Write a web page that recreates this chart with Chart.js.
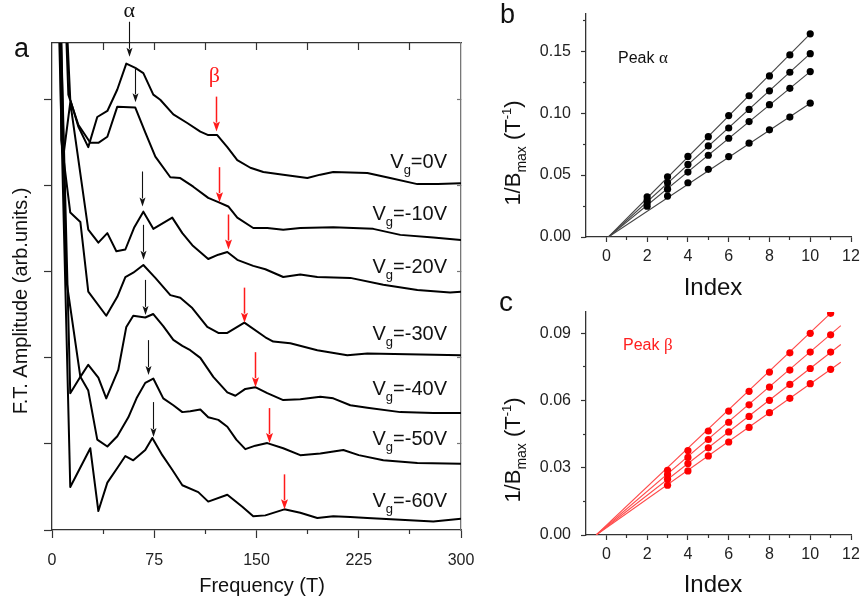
<!DOCTYPE html>
<html>
<head>
<meta charset="utf-8">
<title>FFT spectra and Landau level index plots</title>
<script src="https://cdn.jsdelivr.net/npm/chart.js@4.4.1/dist/chart.umd.min.js"></script>
<style>
  html, body { margin: 0; padding: 0; background: #fff; }
  #fig { position: relative; width: 861px; height: 604px; overflow: hidden; background: #fff; }
  #fig canvas { position: absolute; }
</style>
</head>
<body>
<div id="fig">
  <canvas id="panelA" width="485" height="604" style="left:0;top:0"></canvas>
  <canvas id="panelB" width="391" height="300" style="left:470px;top:0"></canvas>
  <canvas id="panelC" width="391" height="314" style="left:470px;top:290px"></canvas>
</div>
<script>
// ---- panel a: FT amplitude vs frequency, one offset trace per gate voltage ----
const gateLabels = ['=0V', '=-10V', '=-20V', '=-30V', '=-40V', '=-50V', '=-60V'];
const gateLabelAmp = [4.21, 3.60, 2.99, 2.21, 1.57, 0.99, 0.27];

const freq0V = [9, 13.4, 19.3, 26.6, 33.2, 40.6, 47.9, 54.5, 61.1, 67.0, 74.3, 79.4, 89.0, 99.2, 108.8, 114.6, 121.2, 128.6, 135.9, 145.5, 155.0, 169.6, 187.3, 196.8, 206.3, 231.3, 248, 268, 283, 300];
const amp0V = [6.5, 5.0, 4.69, 4.45, 4.80, 4.87, 5.12, 5.42, 5.37, 5.31, 5.06, 5.00, 4.83, 4.73, 4.63, 4.59, 4.59, 4.45, 4.30, 4.21, 4.16, 4.13, 4.09, 4.13, 4.16, 4.15, 4.09, 4.02, 4.02, 4.03];

const freqM10V = [8.5, 12.0, 19.3, 28.1, 34.0, 40.6, 47.9, 61.1, 68.4, 75.8, 86.8, 94.1, 103.6, 114.6, 122.0, 129.3, 135.9, 147.6, 157.9, 169.6, 182.1, 206.3, 235.6, 255.5, 279.7, 300];
const ampM10V = [6.6, 5.06, 4.71, 4.50, 4.50, 4.57, 4.92, 4.91, 4.62, 4.34, 4.10, 4.09, 3.99, 3.86, 3.81, 3.76, 3.63, 3.51, 3.51, 3.49, 3.51, 3.52, 3.50, 3.43, 3.40, 3.37];

const freqM20V = [5, 8.3, 13.4, 26.6, 34.0, 40.6, 47.2, 53.8, 60.4, 67.0, 74.3, 88.2, 95.6, 102.9, 114.6, 122.0, 128.6, 135.9, 147.6, 156.5, 169.6, 182.1, 194.6, 218.8, 243.0, 268.0, 292.0, 300];
const ampM20V = [6.32, 4.34, 4.97, 3.49, 3.34, 3.45, 3.24, 3.26, 3.52, 3.70, 3.50, 3.63, 3.45, 3.31, 3.15, 3.20, 3.23, 3.14, 3.07, 3.03, 2.94, 2.97, 2.94, 2.93, 2.85, 2.79, 2.76, 2.77];

const freqM30V = [5, 6.8, 13.4, 20.8, 26.6, 39.8, 47.9, 53.8, 59.6, 67.0, 75.8, 86.8, 94.1, 102.9, 113.9, 122.0, 128.6, 141.1, 156.5, 162.3, 174.8, 194.6, 216.6, 231.3, 300];
const ampM30V = [7.5, 4.53, 3.69, 3.58, 2.77, 2.49, 2.71, 2.94, 2.99, 3.08, 2.93, 2.73, 2.70, 2.58, 2.36, 2.29, 2.29, 2.41, 2.24, 2.19, 2.17, 2.09, 2.03, 2.05, 2.03];

const freqM40V = [5, 13.4, 20.8, 26.6, 34.0, 39.8, 48.6, 54.5, 59.6, 68.4, 74.3, 81.6, 89.0, 95.6, 101.4, 108.8, 118.3, 128.6, 134.5, 141.8, 149.1, 157.9, 169.6, 182.1, 196.8, 206.3, 218.8, 231.3, 255.5, 279.7, 300];
const ampM40V = [6.77, 1.59, 1.78, 1.92, 1.77, 1.53, 1.86, 2.36, 2.49, 2.47, 2.51, 2.37, 2.21, 2.14, 2.09, 2.00, 1.78, 1.60, 1.56, 1.64, 1.66, 1.59, 1.51, 1.52, 1.55, 1.53, 1.45, 1.42, 1.37, 1.36, 1.36];

const freqM50V = [5, 10.5, 20.8, 26.6, 33.2, 40.6, 47.9, 56.0, 62.0, 68.4, 74.3, 81.6, 89.0, 95.6, 101.4, 108.8, 114.6, 122.0, 128.6, 135.2, 141.8, 149.1, 157.9, 169.6, 182.1, 196.8, 213.7, 225.0, 243.0, 268.0, 300];
const ampM50V = [7.0, 2.91, 1.78, 1.62, 1.05, 0.97, 1.09, 1.31, 1.53, 1.71, 1.76, 1.53, 1.45, 1.37, 1.38, 1.40, 1.31, 1.28, 1.20, 1.05, 0.94, 0.98, 1.01, 0.95, 0.87, 0.89, 0.93, 0.87, 0.81, 0.78, 0.77];

const freqM60V = [4, 13.4, 28.1, 34.0, 40.6, 47.9, 53.8, 59.6, 68.4, 73.6, 80.9, 88.2, 95.6, 107.3, 114.6, 128.6, 139.6, 147.6, 156.5, 170.4, 182.1, 194.6, 206.3, 218.8, 231.3, 255.5, 279.7, 300];
const ampM60V = [6.56, 0.50, 0.95, 0.22, 0.55, 0.72, 0.86, 0.81, 0.93, 1.07, 0.87, 0.70, 0.52, 0.44, 0.33, 0.41, 0.27, 0.16, 0.17, 0.24, 0.20, 0.14, 0.16, 0.15, 0.14, 0.12, 0.10, 0.13];

// peak positions marked by arrows (alpha black, beta red)
const alphaPeakFreq = [56.7, 61.1, 66.2, 67.0, 68.4, 70.6, 74.3];
const alphaPeakAmp = [5.50, 4.97, 3.76, 3.14, 2.50, 1.80, 1.08];
const betaPeakFreq = [120.5, 122.7, 129.3, 141.1, 149.1, 159.4, 170.4];
const betaPeakAmp = [4.63, 3.81, 3.26, 2.41, 1.66, 1.01, 0.24];

const freqTicks = [0, 75, 150, 225, 300];
const freqMinorTicks = [37.5, 112.5, 187.5, 262.5];
const freqTopTicks = [37.5, 75, 112.5, 150, 187.5, 225, 262.5];
const ampTicks = [0, 1, 2, 3, 4, 5];

// ---- panel b: peak alpha, 1/B at maxima vs index ----
const indexAlpha = [2, 3, 4, 5, 6, 7, 8, 9, 10];
const alphaSet1 = [0.0324, 0.0486, 0.065, 0.081, 0.098, 0.114, 0.130, 0.147, 0.164];
const alphaSet2 = [0.0297, 0.0438, 0.0586, 0.0735, 0.088, 0.103, 0.118, 0.133, 0.148];
const alphaSet3 = [0.0276, 0.0386, 0.0524, 0.066, 0.0797, 0.0932, 0.1068, 0.120, 0.1335];
const alphaSet4 = [0.0249, 0.033, 0.0438, 0.0546, 0.0649, 0.0757, 0.0865, 0.0968, 0.108];
const alphaFitOrigin = [0.1, 0];

// ---- panel c: peak beta ----
const indexBeta = [3, 4, 5, 6, 7, 8, 9, 10, 11];
const betaSet1 = [0.0289, 0.0377, 0.0464, 0.0553, 0.0641, 0.0727, 0.0813, 0.090, 0.0989];
const betaSet2 = [0.027, 0.0346, 0.0426, 0.0503, 0.0581, 0.066, 0.0736, 0.0816, 0.0893];
const betaSet3 = [0.0249, 0.0319, 0.0389, 0.046, 0.0529, 0.0601, 0.0672, 0.0743, 0.0816];
const betaSet4 = [0.0222, 0.0286, 0.0353, 0.0415, 0.048, 0.0546, 0.061, 0.0675, 0.0739];
const betaFitOrigin = [-0.5, 0];
const betaFitEndIndex = [11.1, 11.5, 11.5, 11.5];
const betaFitEndValue = [0.0998, 0.0934, 0.085, 0.0771];

const indexTicks = [0, 2, 4, 6, 8, 10, 12];
const indexMinorTicks = [1, 3, 5, 7, 9, 11];
const invBTicksB = [0, 0.05, 0.10, 0.15];
const invBMinorB = [0.025, 0.075, 0.125, 0.175];
const invBTicksC = [0, 0.03, 0.06, 0.09];
const invBMinorC = [0.015, 0.045, 0.075];

const FONT = '"Liberation Sans", Arial, Helvetica, sans-serif';
const SERIF = '"Liberation Serif", "Times New Roman", serif';

const ftTraces = [
  [freq0V, amp0V], [freqM10V, ampM10V], [freqM20V, ampM20V], [freqM30V, ampM30V],
  [freqM40V, ampM40V], [freqM50V, ampM50V], [freqM60V, ampM60V]
];

function pts(xs, ys) {
  return xs.map((v, i) => ({ x: v, y: ys[i] }));
}

function fixBox(w, h) {
  return (s) => {
    if (w != null) s.width = w;
    if (h != null) s.height = h;
    s.paddingLeft = 0;
    s.paddingRight = 0;
    s.paddingTop = 0;
    s.paddingBottom = 0;
  };
}

// one axis (or a tick-only helper axis) with explicit tick values
function axis(o) {
  return {
    type: 'linear',
    axis: o.axis,
    position: o.position,
    weight: o.weight || 0,
    min: o.min,
    max: o.max,
    afterBuildTicks: (s) => { s.ticks = o.ticks.map((v) => ({ value: v })); },
    afterFit: fixBox(o.w, o.h),
    grid: { display: true, drawOnChartArea: false, drawTicks: true, tickLength: o.len, tickWidth: 1.2, tickColor: o.color || '#333' },
    border: { display: !!o.line, color: o.color || '#333', width: 1.3 },
    ticks: o.fmt
      ? { display: true, autoSkip: false, maxRotation: 0, padding: o.pad, color: '#222', font: { family: FONT, size: 16 }, callback: o.fmt }
      : { display: false }
  };
}

const baseOptions = {
  responsive: false,
  animation: false,
  devicePixelRatio: 1,
  events: [],
  plugins: { legend: { display: false }, tooltip: { enabled: false } }
};

function drawArrow(ctx, px, py, len, color, lw, head, hw) {
  ctx.strokeStyle = color;
  ctx.fillStyle = color;
  ctx.lineWidth = lw;
  ctx.beginPath();
  ctx.moveTo(px, py - len);
  ctx.lineTo(px, py - head + 1);
  ctx.stroke();
  ctx.beginPath();
  ctx.moveTo(px, py);
  ctx.lineTo(px - hw, py - head);
  ctx.lineTo(px, py - head + 2);
  ctx.lineTo(px + hw, py - head);
  ctx.closePath();
  ctx.fill();
}

// text runs: [text, fontSize, baselineShift, family]
function drawRuns(ctx, runs, x, y, align) {
  let total = 0;
  runs.forEach((r) => { ctx.font = r[1] + 'px ' + (r[3] || FONT); total += ctx.measureText(r[0]).width; });
  let cx = align === 'right' ? x - total : align === 'center' ? x - total / 2 : x;
  ctx.textAlign = 'left';
  ctx.textBaseline = 'alphabetic';
  runs.forEach((r) => {
    ctx.font = r[1] + 'px ' + (r[3] || FONT);
    ctx.fillText(r[0], cx, y + r[2]);
    cx += ctx.measureText(r[0]).width;
  });
}

function drawInvBTitle(ctx, cx, cy) {
  ctx.save();
  ctx.translate(cx, cy);
  ctx.rotate(-Math.PI / 2);
  ctx.fillStyle = '#111';
  drawRuns(ctx, [['1/B', 22, 0], ['max', 14, 6], [' (T', 22, 0], ['-1', 13, -9], [')', 22, 0]], 0, 8, 'center');
  ctx.restore();
}

const decorA = {
  id: 'decorA',
  afterDraw(chart) {
    const ctx = chart.ctx;
    const sx = chart.scales.x;
    const sy = chart.scales.y;
    ctx.save();
    alphaPeakFreq.forEach((f, i) => {
      drawArrow(ctx, Math.round(sx.getPixelForValue(f)) + 0.5, sy.getPixelForValue(alphaPeakAmp[i]), 35, '#111', 1.1, 9, 3);
    });
    betaPeakFreq.forEach((f, i) => {
      drawArrow(ctx, Math.round(sx.getPixelForValue(f)) + 0.5, sy.getPixelForValue(betaPeakAmp[i]), 35, '#ff1a1a', 1.5, 10, 3.5);
    });
    ctx.fillStyle = '#111';
    gateLabels.forEach((lab, i) => {
      drawRuns(ctx, [['V', 20, 0], ['g', 13, 6], [lab, 20, 0]], 447, sy.getPixelForValue(gateLabelAmp[i]), 'right');
    });
    // greek peak names
    drawRuns(ctx, [['\u03b1', 22, 0, SERIF]], sx.getPixelForValue(alphaPeakFreq[0]), 17, 'center');
    ctx.fillStyle = '#ff2020';
    drawRuns(ctx, [['\u03b2', 22, 0, SERIF]], sx.getPixelForValue(betaPeakFreq[0]) - 2, 82, 'center');
    // panel letter and axis titles
    ctx.fillStyle = '#111';
    drawRuns(ctx, [['a', 27, 0]], 14, 57, 'left');
    drawRuns(ctx, [['Frequency (T)', 20, 0]], 262, 592, 'center');
    ctx.save();
    ctx.translate(20, 301);
    ctx.rotate(-Math.PI / 2);
    drawRuns(ctx, [['F.T. Amplitude (arb.units.)', 20, 0]], 0, 7, 'center');
    ctx.restore();
    ctx.restore();
  }
};

new Chart(document.getElementById('panelA'), {
  type: 'scatter',
  data: {
    datasets: ftTraces.map((t) => ({
      data: pts(t[0], t[1]),
      showLine: true,
      borderColor: '#000',
      borderWidth: 2,
      borderJoinStyle: 'round',
      pointRadius: 0,
      xAxisID: 'x',
      yAxisID: 'y'
    }))
  },
  options: Object.assign({}, baseOptions, {
    layout: { padding: { left: 0, top: 43, right: 24, bottom: 0 } },
    scales: {
      x: axis({ axis: 'x', position: 'bottom', weight: 1, min: 0, max: 300, ticks: freqTicks, len: 8, line: true, h: 74, pad: 13, fmt: (v) => String(v) }),
      xMinor: axis({ axis: 'x', position: 'bottom', weight: 0, min: 0, max: 300, ticks: freqMinorTicks, len: 4, h: 0 }),
      xTop: axis({ axis: 'x', position: 'top', min: 0, max: 300, ticks: freqTopTicks, len: -7, line: true, h: 0 }),
      y: axis({ axis: 'y', position: 'left', min: 0, max: 5.66, ticks: ampTicks, len: 8, line: true, w: 52 }),
      yR: axis({ axis: 'y', position: 'right', min: 0, max: 5.66, ticks: ampTicks.slice(1), len: -4, line: true, w: 0, color: '#777' })
    }
  }),
  plugins: [decorA]
});

// ---- panels b and c ----
function indexDatasets(xs, sets, fitStart, fitEndX, fitEndY, dotColor, lineColor) {
  const dots = sets.map((s) => ({
    data: pts(xs, s),
    showLine: false,
    pointRadius: 3.6,
    pointBackgroundColor: dotColor,
    pointBorderColor: dotColor,
    pointBorderWidth: 0,
    order: 0,
    xAxisID: 'x',
    yAxisID: 'y'
  }));
  const fits = sets.map((s, i) => ({
    data: [
      { x: fitStart[0], y: fitStart[1] },
      { x: fitEndX ? fitEndX[i] : xs[xs.length - 1], y: fitEndY ? fitEndY[i] : s[s.length - 1] }
    ],
    showLine: true,
    borderColor: lineColor,
    borderWidth: 1.1,
    pointRadius: 0,
    order: 1,
    xAxisID: 'x',
    yAxisID: 'y'
  }));
  return dots.concat(fits);
}

function indexScales(yMax, yTicks, yMinor, xHeight) {
  return {
    x: axis({ axis: 'x', position: 'bottom', weight: 1, min: -1, max: 12, ticks: indexTicks, len: 5, line: true, h: xHeight, pad: 5, fmt: (v) => String(v) }),
    xMinor: axis({ axis: 'x', position: 'bottom', weight: 0, min: -1, max: 12, ticks: indexMinorTicks, len: 3, h: 0 }),
    y: axis({ axis: 'y', position: 'left', weight: 1, min: 0, max: yMax, ticks: yTicks, len: 5, line: true, w: 116, pad: 10, fmt: (v) => v.toFixed(2) }),
    yMinor: axis({ axis: 'y', position: 'left', weight: 0, min: 0, max: yMax, ticks: yMinor, len: 3, w: 0 })
  };
}

const decorB = {
  id: 'decorB',
  afterDraw(chart) {
    const ctx = chart.ctx;
    ctx.save();
    ctx.fillStyle = '#111';
    drawRuns(ctx, [['b', 27, 0]], 30, 23, 'left');
    drawRuns(ctx, [['Peak ', 16, 0], ['\u03b1', 17, 0, SERIF]], 148, 63, 'left');
    drawRuns(ctx, [['Index', 24, 0]], 243, 295, 'center');
    drawInvBTitle(ctx, 42, 153);
    ctx.restore();
  }
};

const decorC = {
  id: 'decorC',
  afterDraw(chart) {
    const ctx = chart.ctx;
    ctx.save();
    ctx.fillStyle = '#111';
    drawRuns(ctx, [['c', 28, 0]], 29, 21, 'left');
    drawRuns(ctx, [['Index', 24, 0]], 243, 302, 'center');
    drawInvBTitle(ctx, 42, 160);
    ctx.fillStyle = '#ff2020';
    drawRuns(ctx, [['Peak ', 16, 0], ['\u03b2', 17, 0, SERIF]], 153, 60, 'left');
    ctx.restore();
  }
};

new Chart(document.getElementById('panelB'), {
  type: 'scatter',
  data: { datasets: indexDatasets(indexAlpha, [alphaSet1, alphaSet2, alphaSet3, alphaSet4], alphaFitOrigin, null, null, '#000', '#444') },
  options: Object.assign({}, baseOptions, {
    layout: { padding: { left: 0, top: 14, right: 10, bottom: 0 } },
    scales: indexScales(0.18, invBTicksB, invBMinorB, 63)
  }),
  plugins: [decorB]
});

new Chart(document.getElementById('panelC'), {
  type: 'scatter',
  data: { datasets: indexDatasets(indexBeta, [betaSet1, betaSet2, betaSet3, betaSet4], betaFitOrigin, betaFitEndIndex, betaFitEndValue, '#ff0000', '#ff4a4a') },
  options: Object.assign({}, baseOptions, {
    layout: { padding: { left: 0, top: 22, right: 10, bottom: 0 } },
    scales: indexScales(0.0995, invBTicksC, invBMinorC, 69)
  }),
  plugins: [decorC]
});
</script>
</body>
</html>
